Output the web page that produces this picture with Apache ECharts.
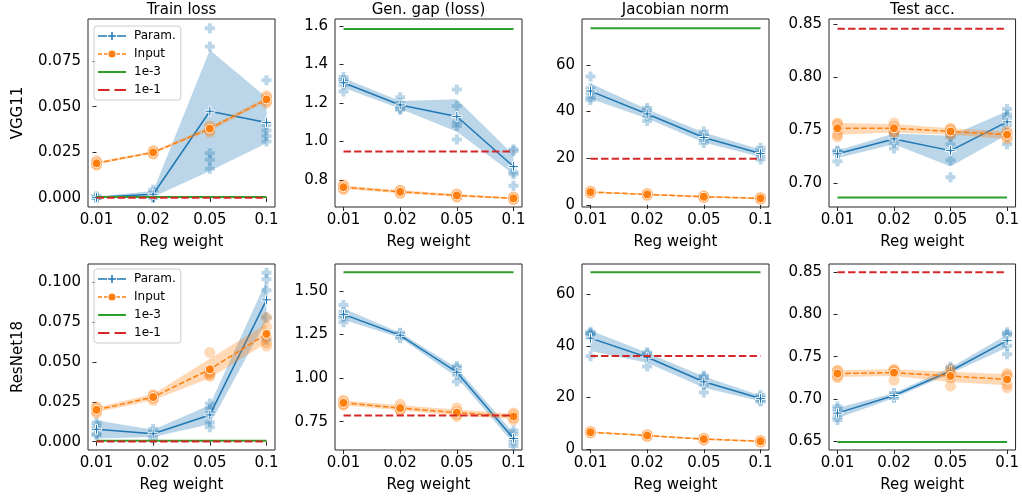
<!DOCTYPE html>
<html>
<head>
<meta charset="utf-8">
<script src="https://cdn.jsdelivr.net/npm/echarts@6/dist/echarts.min.js"></script>
<style>
  html, body { margin: 0; padding: 0; background: #fff; }
  #chart { width: 1022px; height: 502px; }
</style>
</head>
<body>
<div id="chart"></div>
<script>
// ---- categories and labels ----
const regWeights = ['0.01', '0.02', '0.05', '0.1'];
const colTitles = ['Train loss', 'Gen. gap (loss)', 'Jacobian norm', 'Test acc.'];
const rowNames = ['VGG11', 'ResNet18'];
const seriesNames = ['Param.', 'Input', '1e-3', '1e-1'];

// ---- VGG11 / Train loss ----
const vggTrainParamRuns = [[0.001, 0.0006, 0.0003, 0.0001, 0.0], [0.0045, 0.003, 0.002, 0.001, 0.0], [0.093, 0.083, 0.0245, 0.021, 0.016], [0.0645, 0.040, 0.037, 0.034, 0.031]];
const vggTrainParamMean = [0.0004, 0.0021, 0.0475, 0.0413];
const vggTrainParamLo = [0.0001, 0.0006, 0.0148, 0.030];
const vggTrainParamHi = [0.0008, 0.0038, 0.081, 0.055];
const vggTrainInputRuns = [[0.0205, 0.0195, 0.019, 0.0185, 0.018], [0.026, 0.0255, 0.025, 0.0245, 0.024], [0.0395, 0.0385, 0.038, 0.037, 0.036], [0.056, 0.055, 0.054, 0.053, 0.052]];
const vggTrainInputMean = [0.019, 0.025, 0.038, 0.054];
const vggTrainInputLo = [0.0184, 0.0244, 0.0368, 0.0528];
const vggTrainInputHi = [0.0198, 0.0256, 0.0392, 0.0552];
const vggTrainBaselines = [0.0006, 0.0001];

// ---- VGG11 / Gen. gap ----
const vggGapParamRuns = [[1.335, 1.32, 1.31, 1.295, 1.26], [1.23, 1.20, 1.185, 1.17, 1.165], [1.27, 1.185, 1.10, 1.08, 1.01], [0.96, 0.95, 0.84, 0.83, 0.77]];
const vggGapParamMean = [1.305, 1.19, 1.13, 0.87];
const vggGapParamLo = [1.28, 1.17, 1.05, 0.83];
const vggGapParamHi = [1.33, 1.21, 1.22, 0.93];
const vggGapInputRuns = [[0.775, 0.77, 0.762, 0.755, 0.75], [0.748, 0.743, 0.738, 0.733, 0.73], [0.728, 0.723, 0.718, 0.714, 0.71], [0.712, 0.708, 0.704, 0.70, 0.697]];
const vggGapInputMean = [0.762, 0.738, 0.719, 0.704];
const vggGapInputLo = [0.753, 0.731, 0.712, 0.699];
const vggGapInputHi = [0.771, 0.746, 0.726, 0.709];
const vggGapBaselines = [1.585, 0.948];

// ---- VGG11 / Jacobian norm ----
const vggJacParamRuns = [[55, 50, 48, 46, 45], [41.5, 40.5, 39, 38, 36], [31.5, 30, 29, 28, 26.5], [24.5, 23, 22, 21, 19.5]];
const vggJacParamMean = [48.8, 39.0, 28.9, 22.0];
const vggJacParamLo = [45.5, 37, 26.8, 20.5];
const vggJacParamHi = [52, 41, 31, 23.7];
const vggJacInputRuns = [[6, 5.7, 5.5, 5.3, 5.0], [5, 4.7, 4.5, 4.3, 4.0], [3.9, 3.7, 3.5, 3.3, 3.1], [3.2, 3.0, 2.8, 2.6, 2.4]];
const vggJacInputMean = [5.5, 4.5, 3.5, 2.8];
const vggJacInputLo = [5.1, 4.1, 3.1, 2.4];
const vggJacInputHi = [5.9, 4.9, 3.9, 3.2];
const vggJacBaselines = [75.7, 19.8];

// ---- VGG11 / Test acc. ----
const vggAccParamRuns = [[0.731, 0.730, 0.729, 0.728, 0.721], [0.748, 0.746, 0.742, 0.738, 0.733], [0.748, 0.744, 0.737, 0.722, 0.706], [0.770, 0.765, 0.762, 0.755, 0.737]];
const vggAccParamMean = [0.728, 0.742, 0.731, 0.758];
const vggAccParamLo = [0.724, 0.737, 0.716, 0.746];
const vggAccParamHi = [0.731, 0.747, 0.745, 0.768];
const vggAccInputRuns = [[0.757, 0.756, 0.752, 0.746, 0.744], [0.757, 0.754, 0.752, 0.749, 0.748], [0.752, 0.751, 0.750, 0.748, 0.746], [0.749, 0.747, 0.746, 0.744, 0.742]];
const vggAccInputMean = [0.752, 0.752, 0.749, 0.746];
const vggAccInputLo = [0.746, 0.748, 0.746, 0.742];
const vggAccInputHi = [0.757, 0.756, 0.752, 0.749];
const vggAccBaselines = [0.687, 0.8455];

// ---- ResNet18 / Train loss ----
const resTrainParamRuns = [[0.012, 0.010, 0.008, 0.005, 0.004], [0.008, 0.006, 0.005, 0.004, 0.002], [0.024, 0.021, 0.018, 0.012, 0.009], [0.106, 0.102, 0.095, 0.078, 0.064]];
const resTrainParamMean = [0.0078, 0.005, 0.0168, 0.089];
const resTrainParamLo = [0.002, 0.003, 0.011, 0.076];
const resTrainParamHi = [0.0135, 0.0075, 0.023, 0.101];
const resTrainInputRuns = [[0.022, 0.021, 0.020, 0.019, 0.018], [0.0295, 0.029, 0.028, 0.027, 0.026], [0.056, 0.045, 0.043, 0.042, 0.041], [0.078, 0.072, 0.066, 0.062, 0.060]];
const resTrainInputMean = [0.020, 0.028, 0.0454, 0.0676];
const resTrainInputLo = [0.0185, 0.026, 0.040, 0.062];
const resTrainInputHi = [0.0215, 0.030, 0.052, 0.074];
const resTrainBaselines = [0.0006, 0.0001];

// ---- ResNet18 / Gen. gap ----
const resGapParamRuns = [[1.42, 1.38, 1.36, 1.35, 1.32], [1.26, 1.255, 1.245, 1.24, 1.23], [1.07, 1.06, 1.04, 1.02, 0.98], [0.70, 0.68, 0.65, 0.63, 0.61]];
const resGapParamMean = [1.366, 1.246, 1.034, 0.654];
const resGapParamLo = [1.335, 1.232, 1.005, 0.625];
const resGapParamHi = [1.40, 1.26, 1.06, 0.685];
const resGapInputRuns = [[0.875, 0.865, 0.855, 0.85, 0.845], [0.85, 0.83, 0.825, 0.82, 0.815], [0.83, 0.81, 0.80, 0.79, 0.78], [0.80, 0.79, 0.78, 0.77, 0.76]];
const resGapInputMean = [0.858, 0.828, 0.802, 0.78];
const resGapInputLo = [0.845, 0.815, 0.785, 0.765];
const resGapInputHi = [0.872, 0.845, 0.82, 0.795];
const resGapBaselines = [1.607, 0.785];

// ---- ResNet18 / Jacobian norm ----
const resJacParamRuns = [[45.5, 45, 44.5, 44, 36], [37.5, 37, 36, 35.5, 32], [28.5, 28, 27, 25, 22], [21, 20, 19.5, 19, 18.5]];
const resJacParamMean = [43, 35.6, 26.1, 19.6];
const resJacParamLo = [38, 33.5, 23.8, 18.6];
const resJacParamHi = [46, 37.3, 28.2, 20.8];
const resJacInputRuns = [[7, 6.8, 6.6, 6.4, 6.2], [5.7, 5.5, 5.3, 5.1, 4.9], [4.3, 4.1, 3.9, 3.7, 3.5], [3.5, 3.3, 3.1, 2.9, 2.7]];
const resJacInputMean = [6.6, 5.3, 3.9, 3.1];
const resJacInputLo = [6.25, 4.95, 3.55, 2.75];
const resJacInputHi = [6.95, 5.65, 4.25, 3.45];
const resJacBaselines = [68.5, 36.1];

// ---- ResNet18 / Test acc. ----
const resAccParamRuns = [[0.691, 0.688, 0.684, 0.678, 0.675], [0.707, 0.705, 0.704, 0.703, 0.701], [0.738, 0.736, 0.733, 0.731, 0.729], [0.779, 0.777, 0.775, 0.763, 0.753]];
const resAccParamMean = [0.683, 0.704, 0.733, 0.769];
const resAccParamLo = [0.677, 0.701, 0.730, 0.761];
const resAccParamHi = [0.689, 0.707, 0.737, 0.776];
const resAccInputRuns = [[0.734, 0.733, 0.730, 0.727, 0.725], [0.735, 0.734, 0.733, 0.731, 0.722], [0.735, 0.731, 0.728, 0.725, 0.715], [0.730, 0.728, 0.725, 0.717, 0.713]];
const resAccInputMean = [0.730, 0.731, 0.727, 0.723];
const resAccInputLo = [0.726, 0.727, 0.720, 0.716];
const resAccInputHi = [0.734, 0.735, 0.732, 0.729];
const resAccBaselines = [0.6488, 0.85];

// ---- y-axis tick labels per panel ----
const yTicksTrainVgg = ['0.000', '0.025', '0.050', '0.075'];
const yTicksGapVgg = ['0.8', '1.0', '1.2', '1.4', '1.6'];
const yTicksJacVgg = ['0', '20', '40', '60'];
const yTicksAccVgg = ['0.70', '0.75', '0.80', '0.85'];
const yTicksTrainRes = ['0.000', '0.025', '0.050', '0.075', '0.100'];
const yTicksGapRes = ['0.75', '1.00', '1.25', '1.50'];
const yTicksJacRes = ['0', '20', '40', '60'];
const yTicksAccRes = ['0.65', '0.70', '0.75', '0.80', '0.85'];

// ---- panel assembly ----
const panels = [
  { pr: vggTrainParamRuns, pm: vggTrainParamMean, pl: vggTrainParamLo, ph: vggTrainParamHi, ir: vggTrainInputRuns, im: vggTrainInputMean, il: vggTrainInputLo, ih: vggTrainInputHi, base: vggTrainBaselines, ticks: yTicksTrainVgg, range: [-0.0049, 0.098] },
  { pr: vggGapParamRuns, pm: vggGapParamMean, pl: vggGapParamLo, ph: vggGapParamHi, ir: vggGapInputRuns, im: vggGapInputMean, il: vggGapInputLo, ih: vggGapInputHi, base: vggGapBaselines, ticks: yTicksGapVgg, range: [0.659, 1.637] },
  { pr: vggJacParamRuns, pm: vggJacParamMean, pl: vggJacParamLo, ph: vggJacParamHi, ir: vggJacInputRuns, im: vggJacInputMean, il: vggJacInputLo, ih: vggJacInputHi, base: vggJacBaselines, ticks: yTicksJacVgg, range: [-0.9, 79.7] },
  { pr: vggAccParamRuns, pm: vggAccParamMean, pl: vggAccParamLo, ph: vggAccParamHi, ir: vggAccInputRuns, im: vggAccInputMean, il: vggAccInputLo, ih: vggAccInputHi, base: vggAccBaselines, ticks: yTicksAccVgg, range: [0.678, 0.8547] },
  { pr: resTrainParamRuns, pm: resTrainParamMean, pl: resTrainParamLo, ph: resTrainParamHi, ir: resTrainInputRuns, im: resTrainInputMean, il: resTrainInputLo, ih: resTrainInputHi, base: resTrainBaselines, ticks: yTicksTrainRes, range: [-0.0052, 0.1115] },
  { pr: resGapParamRuns, pm: resGapParamMean, pl: resGapParamLo, ph: resGapParamHi, ir: resGapInputRuns, im: resGapInputMean, il: resGapInputLo, ih: resGapInputHi, base: resGapBaselines, ticks: yTicksGapRes, range: [0.5875, 1.655] },
  { pr: resJacParamRuns, pm: resJacParamMean, pl: resJacParamLo, ph: resJacParamHi, ir: resJacInputRuns, im: resJacInputMean, il: resJacInputLo, ih: resJacInputHi, base: resJacBaselines, ticks: yTicksJacRes, range: [-0.3, 71.7] },
  { pr: resAccParamRuns, pm: resAccParamMean, pl: resAccParamLo, ph: resAccParamHi, ir: resAccInputRuns, im: resAccInputMean, il: resAccInputLo, ih: resAccInputHi, base: resAccBaselines, ticks: yTicksAccRes, range: [0.6393, 0.8599] }
];

// ---- styling ----
const BLUE = '#1f77b4', ORANGE = '#ff7f0e', GREEN = '#2ca02c', RED = '#d62728';
const FONT = 'DejaVu Sans';
const FS = 15;
const PLUS_THIN = 'path://M4,0H6V4H10V6H6V10H4V6H0V4H4Z';
const PLUS_FAT = 'path://M3,0H7V3H10V7H7V10H3V7H0V3H3Z';
// legend glyphs drawn in a 28 x 10 box: line sample plus marker
const LEGEND_ICONS = [
  'path://M0,4.25H9V5.75H0Z M19,4.25H28V5.75H19Z M13.25,1H14.75V9H13.25Z M10,4.25H18V5.75H10Z',
  'path://M0,4.25H4V5.75H0Z M6,4.25H9.5V5.75H6Z M10.5,5A3.5,3.5 0 1 0 17.5,5A3.5,3.5 0 1 0 10.5,5Z M18.5,4.25H22V5.75H18.5Z M24,4.25H28V5.75H24Z',
  'path://M0,4H28V6H0Z',
  'path://M0,4H11.5V6H0Z M16.5,4H28V6H16.5Z'
];
const colLefts = [88, 335, 582, 829];
const colWidth = 187;
const rowTops = [19, 264];
const rowHeights = [188, 186];

const grids = [], xAxes = [], yAxes = [], series = [];

function bandSeries(idx, lo, hi, color, z) {
  return {
    type: 'custom', xAxisIndex: idx, yAxisIndex: idx, silent: true, z: z,
    data: lo.map((l, k) => [k, l, hi[k]]),
    encode: { x: 0, y: [1, 2] },
    renderItem: function (params, api) {
      if (params.dataIndex !== 0) return null;
      const top = hi.map((h, k) => api.coord([k, h]));
      const bottom = lo.map((l, k) => api.coord([k, l])).reverse();
      return { type: 'polygon', shape: { points: top.concat(bottom) }, style: { fill: color } };
    }
  };
}

function runsData(runs) {
  const out = [];
  runs.forEach((vals, k) => vals.forEach(v => out.push([k, v])));
  return out;
}

panels.forEach((p, i) => {
  const row = Math.floor(i / 4), col = i % 4;
  grids.push({
    left: colLefts[col], top: rowTops[row], width: colWidth, height: rowHeights[row],
    show: true, borderColor: '#262626', borderWidth: 1, backgroundColor: 'transparent'
  });
  const tickVals = p.ticks.map(Number);
  const dec = p.ticks[0].includes('.') ? p.ticks[0].split('.')[1].length : 0;
  xAxes.push({
    gridIndex: i, type: 'value', min: -0.15, max: 3.15,
    axisLine: { show: false },
    axisTick: { show: true, length: 4, lineStyle: { color: '#262626', width: 1 }, customValues: [0, 1, 2, 3] },
    axisLabel: { show: true, customValues: [0, 1, 2, 3], formatter: v => regWeights[Math.round(v)], color: '#000', fontFamily: FONT, fontSize: FS, margin: 6 },
    splitLine: { show: false },
    name: 'Reg weight', nameLocation: 'middle', nameGap: 28,
    nameTextStyle: { color: '#000', fontFamily: FONT, fontSize: FS }
  });
  yAxes.push({
    gridIndex: i, type: 'value', min: p.range[0], max: p.range[1],
    axisLine: { show: false },
    axisTick: { show: true, length: 4, lineStyle: { color: '#262626', width: 1 }, customValues: tickVals },
    axisLabel: { show: true, customValues: tickVals, formatter: v => Number(v).toFixed(dec), color: '#000', fontFamily: FONT, fontSize: FS, margin: 7 },
    splitLine: { show: false }
  });

  // Param.: bootstrap band, per-run points, mean line
  series.push(bandSeries(i, p.pl, p.ph, 'rgba(31,119,180,0.3)', 1));
  series.push({
    type: 'scatter', name: 'Param. runs', xAxisIndex: i, yAxisIndex: i, z: 2, silent: true,
    symbol: PLUS_FAT, symbolSize: 10, data: runsData(p.pr),
    itemStyle: { color: BLUE, opacity: 0.3 }
  });
  series.push({
    type: 'line', name: seriesNames[0], xAxisIndex: i, yAxisIndex: i, z: 3,
    data: p.pm.map((v, k) => [k, v]),
    lineStyle: { color: BLUE, width: 1.5 },
    symbol: PLUS_THIN, symbolSize: 10, showSymbol: true,
    itemStyle: { color: BLUE, borderColor: '#fff', borderWidth: 1 },
    emphasis: { disabled: true }
  });

  // Input: band, per-run points, mean line
  series.push(bandSeries(i, p.il, p.ih, 'rgba(255,127,14,0.3)', 4));
  series.push({
    type: 'scatter', name: 'Input runs', xAxisIndex: i, yAxisIndex: i, z: 5, silent: true,
    symbol: 'circle', symbolSize: 11, data: runsData(p.ir),
    itemStyle: { color: ORANGE, opacity: 0.3 }
  });
  series.push({
    type: 'line', name: seriesNames[1], xAxisIndex: i, yAxisIndex: i, z: 6,
    data: p.im.map((v, k) => [k, v]),
    lineStyle: { color: ORANGE, width: 1.5, type: [5.5, 2.4] },
    symbol: 'circle', symbolSize: 9, showSymbol: true,
    itemStyle: { color: ORANGE, borderColor: '#fff', borderWidth: 1 },
    emphasis: { disabled: true }
  });

  // Reference runs
  series.push({
    type: 'line', name: seriesNames[2], xAxisIndex: i, yAxisIndex: i, z: 7,
    data: regWeights.map((_, k) => [k, p.base[0]]),
    lineStyle: { color: GREEN, width: 2 }, symbol: 'none', itemStyle: { color: GREEN },
    emphasis: { disabled: true }
  });
  series.push({
    type: 'line', name: seriesNames[3], xAxisIndex: i, yAxisIndex: i, z: 8,
    data: regWeights.map((_, k) => [k, p.base[1]]),
    lineStyle: { color: RED, width: 2, type: [7.4, 3.2] }, symbol: 'none', itemStyle: { color: RED },
    emphasis: { disabled: true }
  });
});

function makeLegend(top) {
  return {
    data: seriesNames.map((n, k) => ({ name: n, icon: LEGEND_ICONS[k] })),
    orient: 'vertical', left: 94, top: top,
    itemWidth: 28, itemHeight: 10, itemGap: 4, symbolKeepAspect: true,
    padding: [3, 5, 3, 4],
    itemStyle: { borderWidth: 0 },
    backgroundColor: 'rgba(255,255,255,0.85)', borderColor: '#cccccc', borderWidth: 1, borderRadius: 3,
    textStyle: { fontFamily: FONT, fontSize: 12, color: '#000', padding: [0, 0, 0, 3], lineHeight: 14 },
    selectedMode: false
  };
}

const graphics = [];
colTitles.forEach((t, c) => {
  graphics.push({
    type: 'text', x: colLefts[c] + colWidth / 2, y: 10,
    style: { text: t, fontFamily: FONT, fontSize: FS, fill: '#000', align: 'center', verticalAlign: 'middle' }
  });
});
rowNames.forEach((t, r) => {
  graphics.push({
    type: 'text', x: 18, y: rowTops[r] + rowHeights[r] / 2, rotation: Math.PI / 2,
    style: { text: t, fontFamily: FONT, fontSize: FS, fill: '#000', align: 'center', verticalAlign: 'middle' }
  });
});

const chart = echarts.init(document.getElementById('chart'), null, { renderer: 'canvas' });
chart.setOption({
  animation: false,
  backgroundColor: '#fff',
  textStyle: { fontFamily: FONT },
  grid: grids,
  xAxis: xAxes,
  yAxis: yAxes,
  legend: [makeLegend(26), makeLegend(269)],
  graphic: graphics,
  series: series
});
</script>
</body>
</html>
